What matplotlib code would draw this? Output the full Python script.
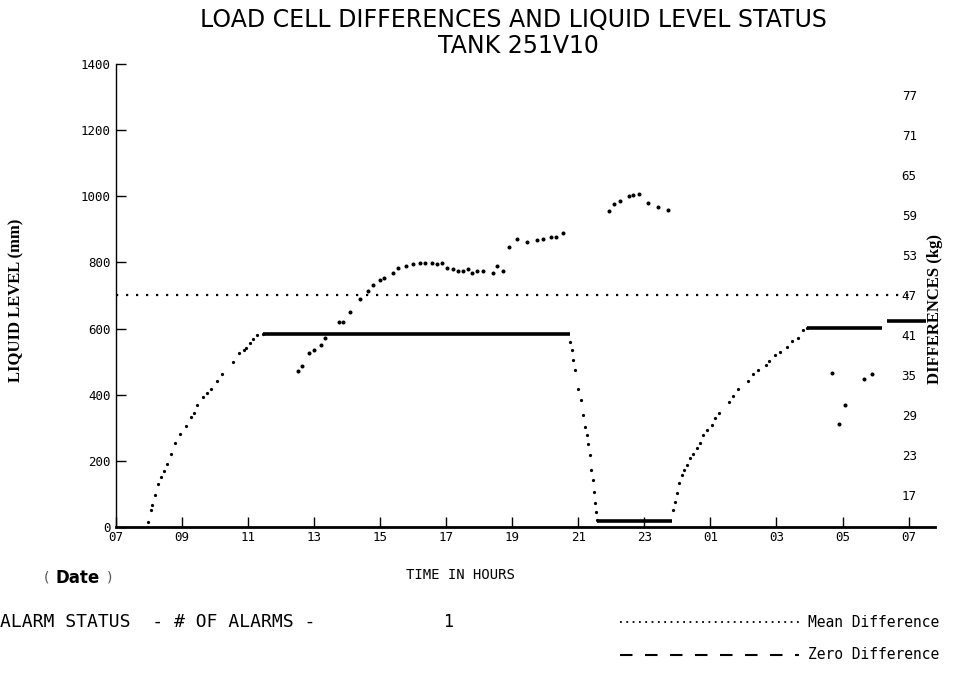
import matplotlib
matplotlib.use("Agg")
import matplotlib.pyplot as plt
from matplotlib.lines import Line2D

# -----------------------------
# Data
# -----------------------------

# liquid level, sampled points on the ramps (hours since 00:00 of day 1, mm)
ramp_hours = [7.97, 8.06, 8.09, 8.18, 8.27, 8.36, 8.45, 8.55, 8.67, 8.79, 8.94, 9.12,
              9.27, 9.36, 9.45, 9.64, 9.76, 9.88, 10.06, 10.21, 10.55, 10.73, 10.88,
              10.94, 11.06, 11.15, 11.27, 11.45,
              20.76, 20.82, 20.85, 20.91, 21.0, 21.09, 21.15, 21.21, 21.27, 21.30,
              21.36, 21.39, 21.45, 21.48, 21.52, 21.55, 21.58,
              23.88, 23.94, 24.0, 24.06, 24.15, 24.21, 24.30, 24.39, 24.48, 24.58,
              24.67, 24.79, 24.91, 25.06, 25.15, 25.27, 25.55, 25.67, 25.85, 26.15,
              26.30, 26.45, 26.67, 26.76, 26.97, 27.12, 27.33, 27.48, 27.64, 27.79, 27.91]
ramp_level = [15, 51, 67, 97, 130, 151, 169, 191, 221, 254, 281, 305,
              333, 345, 369, 393, 405, 417, 441, 463, 499, 526, 535,
              541, 556, 569, 581, 584,
              559, 535, 505, 475, 417, 384, 339, 302, 278, 251,
              218, 172, 142, 106, 73, 45, 21,
              51, 76, 103, 133, 157, 172, 187, 209, 221, 239,
              254, 278, 293, 308, 330, 345, 378, 396, 417, 441,
              463, 475, 490, 502, 520, 529, 544, 562, 572, 596, 602]

# flat parts of the level (start hour, end hour, mm)
plateau_start = [11.45, 21.58, 27.91, 30.36]
plateau_end = [20.76, 23.85, 30.21, 31.52]
plateau_level = [584, 18, 602, 623]

# load cell differences (kg)
diff_hours = [12.52, 12.64, 12.85, 13.0, 13.21, 13.33, 13.76, 13.88, 14.09, 14.39,
              14.64, 14.79, 15.0, 15.12, 15.39, 15.55, 15.79, 16.0, 16.21, 16.36,
              16.58, 16.73, 16.88, 17.03, 17.21, 17.36, 17.52, 17.67, 17.79, 17.94,
              18.12, 18.42, 18.55, 18.73, 18.91, 19.15, 19.45, 19.76, 19.94, 20.18,
              20.33, 20.55, 21.94, 22.09, 22.27, 22.52, 22.67, 22.85, 23.12, 23.42,
              23.73, 28.67, 28.88, 29.09, 29.64, 29.88]
diff_kg = [35.6, 36.4, 38.3, 38.8, 39.5, 40.6, 43.0, 43.0, 44.5, 46.4,
           47.6, 48.5, 49.2, 49.5, 50.3, 51.0, 51.3, 51.6, 51.8, 51.8,
           51.8, 51.6, 51.8, 51.0, 50.9, 50.6, 50.6, 50.9, 50.3, 50.6,
           50.6, 50.3, 51.3, 50.6, 54.2, 55.4, 54.9, 55.2, 55.4, 55.7,
           55.7, 56.3, 59.6, 60.6, 61.1, 61.8, 62.0, 62.1, 60.8, 60.2,
           59.7, 35.3, 27.7, 30.5, 34.4, 35.2]

mean_diff = 47
zero_diff = 0
alarm_count = 1

level_ticks = [0, 200, 400, 600, 800, 1000, 1200, 1400]
diff_ticks = [17, 23, 29, 35, 41, 47, 53, 59, 65, 71, 77]
hour_ticks = [7, 9, 11, 13, 15, 17, 19, 21, 23, 25, 27, 29, 31]
hour_labels = ["07", "09", "11", "13", "15", "17", "19", "21", "23", "01", "03", "05", "07"]

# -----------------------------
# Figure
# -----------------------------
mono = "DejaVu Sans Mono"
serif = "Liberation Serif"

fig = plt.figure(figsize=(9.69, 6.92), dpi=100)
ax = fig.add_axes([0.1197, 0.2384, 0.8452, 0.6691])

ax.plot(ramp_hours, ramp_level, linestyle="none", marker="o", markersize=1.3, color="black")
ax.hlines(plateau_level, plateau_start, plateau_end, color="black", linewidth=2.6)

ax.set_xlim(7, 31.8)
ax.set_ylim(0, 1400)
ax.set_xticks(hour_ticks)
ax.set_xticklabels(hour_labels, fontfamily=mono, fontsize=9)
ax.set_yticks(level_ticks)
ax.set_yticklabels([str(v) for v in level_ticks], fontfamily=mono, fontsize=9)
ax.tick_params(axis="both", direction="in", length=7, width=1, color="black")
ax.tick_params(axis="x", pad=3)
ax.tick_params(axis="y", pad=4)

ax.spines["top"].set_visible(False)
ax.spines["right"].set_visible(False)
ax.spines["left"].set_linewidth(1.0)
ax.spines["bottom"].set_linewidth(2.0)

ax.set_ylabel("LIQUID LEVEL (mm)", fontfamily=serif, fontsize=12, fontweight="bold")
ax.yaxis.set_label_coords(-0.112, 0.49)
ax.set_xlabel("TIME IN HOURS", fontfamily=mono, fontsize=10)
ax.xaxis.set_label_coords(0.42, -0.088)

# right axis - differences
ax2 = ax.twinx()
ax2.set_ylim(12.2, 81.6)
ax2.plot(diff_hours, diff_kg, linestyle="none", marker="o", markersize=1.9, color="black")
ax2.plot([7, 31.15], [mean_diff, mean_diff], color="black", linestyle=(0, (1, 3.5)), linewidth=1.6)
ax2.axhline(zero_diff, color="black", linestyle=(0, (6, 6)), linewidth=1.5)
ax2.set_yticks(diff_ticks)
ax2.set_yticklabels([str(v) for v in diff_ticks], fontfamily=mono, fontsize=9)
ax2.tick_params(axis="y", length=0, pad=-24)
for s in ["top", "right", "left", "bottom"]:
    ax2.spines[s].set_visible(False)
ax2.set_ylabel("DIFFERENCES (kg)", fontfamily=serif, fontsize=12, fontweight="bold")
ax2.yaxis.set_label_coords(0.99, 0.47)

# -----------------------------
# Titles and bottom texts
# -----------------------------
fig.text(0.53, 0.971, "LOAD CELL DIFFERENCES AND LIQUID LEVEL STATUS",
         ha="center", va="center", fontfamily="DejaVu Sans", fontsize=17)
fig.text(0.535, 0.934, "TANK 251V10", ha="center", va="center",
         fontfamily="DejaVu Sans", fontsize=17)

fig.text(0.048, 0.165, "(", ha="center", va="center", fontsize=10, color="#555555")
fig.text(0.08, 0.165, "Date", ha="center", va="center", fontfamily="DejaVu Sans",
         fontsize=12, fontweight="bold")
fig.text(0.113, 0.165, ")", ha="center", va="center", fontsize=10, color="#555555")

fig.text(0.0, 0.101, "ALARM STATUS  - # OF ALARMS -", ha="left", va="center",
         fontfamily=mono, fontsize=13)
fig.text(0.462, 0.101, str(alarm_count), ha="center", va="center", fontfamily=mono, fontsize=12)

fig.add_artist(Line2D([0.64, 0.825], [0.101, 0.101], color="black",
                      linestyle=(0, (1, 2.5)), linewidth=1.3))
fig.text(0.834, 0.101, "Mean Difference", ha="left", va="center", fontfamily=mono, fontsize=10.5)
fig.add_artist(Line2D([0.64, 0.825], [0.054, 0.054], color="black",
                      linestyle=(0, (6, 6)), linewidth=1.5))
fig.text(0.834, 0.054, "Zero Difference", ha="left", va="center", fontfamily=mono, fontsize=10.5)

fig.savefig("out.png", dpi=100)
